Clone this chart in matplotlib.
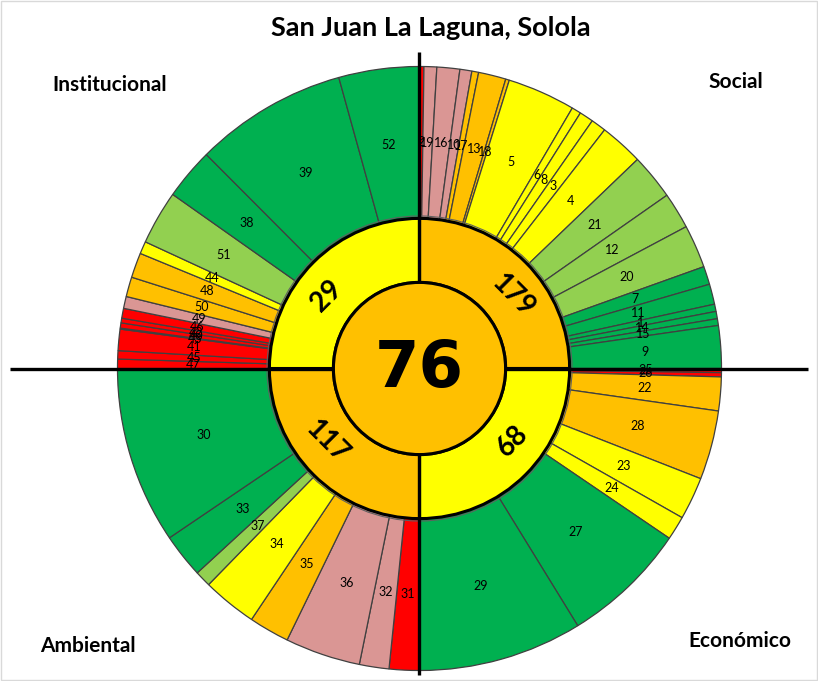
import matplotlib.pyplot as plt
import numpy as np

plt.rcParams['font.family'] = ['Lato', 'DejaVu Sans']

title = "San Juan La Laguna, Solola"
center_value = 76
center_level = 3

# quadrants in drawing order (clockwise from 12 o'clock)
dimensions = ["Social", "Económico", "Ambiental", "Institucional"]
dimension_scores = [179, 68, 117, 29]
dimension_levels = [3, 4, 3, 4]

# indicator number, angular share (deg) and rating level, clockwise inside each quadrant
social_ids = [2, 19, 16, 10, 17, 13, 18, 5, 6, 8, 3, 4, 21, 12, 20, 7, 11, 1, 14, 15, 9]
social_share = [0.85, 2.45, 4.4, 2.3, 1.3, 5.3, 0.7, 13.1, 1.8, 2.7, 2.9, 8.4,
                8.8, 7.0, 8.3, 3.5, 3.9, 1.4, 1.4, 1.3, 8.2]
social_level = [1, 2, 2, 2, 3, 3, 3, 4, 4, 4, 4, 4, 5, 5, 5, 6, 6, 6, 6, 6, 6]

econ_ids = [25, 26, 22, 28, 23, 24, 27, 29]
econ_share = [0.8, 0.8, 6.5, 13.3, 8.2, 4.6, 24.2, 31.6]
econ_level = [1, 1, 3, 3, 4, 4, 6, 6]

amb_ids = [31, 32, 36, 35, 34, 37, 33, 30]
amb_share = [5.8, 5.7, 14.5, 7.8, 10.5, 3.1, 8.5, 34.1]
amb_level = [1, 2, 2, 3, 4, 5, 6, 6]

inst_ids = [47, 45, 41, 43, 40, 42, 46, 49, 50, 48, 44, 51, 38, 39, 52]
inst_share = [1.8, 1.6, 4.1, 0.2, 1.0, 0.9, 1.9, 2.3, 3.8, 4.8, 2.4, 10.4, 9.9, 29.4, 15.5]
inst_level = [1, 1, 1, 1, 1, 1, 1, 2, 3, 3, 4, 5, 6, 6, 6]

palette = {1: "#FF0000", 2: "#DA9694", 3: "#FFC000", 4: "#FFFF00", 5: "#92D050", 6: "#00B050"}

ids, shares, levels = [], [], []
for i_, s_, l_ in [(social_ids, social_share, social_level), (econ_ids, econ_share, econ_level),
                   (amb_ids, amb_share, amb_level), (inst_ids, inst_share, inst_level)]:
    s_ = np.array(s_, dtype=float)
    ids += i_
    shares += list(s_ / s_.sum())   # each quadrant fills a quarter
    levels += l_

W, H = 818, 681
cx, cy, R = 419.5, 368.5, 302.0
r_mid, r_in = 0.497, 0.285

fig = plt.figure(figsize=(W / 100, H / 100), dpi=100)
ax = fig.add_axes([0, 0, 1, 1])

# outer ring
wedges, _ = ax.pie(shares, radius=1.0, startangle=90, counterclock=False,
                   colors=[palette[l] for l in levels],
                   wedgeprops=dict(width=1 - r_mid, edgecolor="#404040", linewidth=0.9))
for w, n in zip(wedges, ids):
    a = np.deg2rad((w.theta1 + w.theta2) / 2)
    rr = (1 + r_mid) / 2
    ax.text(rr * np.cos(a), rr * np.sin(a), str(n), ha="center", va="center",
            fontsize=9, color="black", zorder=5)

ax.add_patch(plt.Circle((0, 0), r_mid + 0.008, fill=False, edgecolor="#606060", lw=0.8, zorder=3))

# inner ring
inner, _ = ax.pie([1, 1, 1, 1], radius=r_mid, startangle=90, counterclock=False,
                  colors=[palette[l] for l in dimension_levels],
                  wedgeprops=dict(width=r_mid - r_in, edgecolor="black", linewidth=2.2))
for w in inner:
    w.set_zorder(3)
for w, s in zip(inner, dimension_scores):
    mid = (w.theta1 + w.theta2) / 2
    rot = mid - 90 if np.sin(np.deg2rad(mid)) > 0 else mid + 90
    # labels sit a little toward the horizontal axis, as in the source chart
    a = np.deg2rad(mid - 7 * np.sign(np.sin(np.deg2rad(mid))) * np.sign(np.cos(np.deg2rad(mid))))
    rr = (r_mid + r_in) / 2
    ax.text(rr * np.cos(a), rr * np.sin(a), str(s), ha="center", va="center",
            rotation=rot, rotation_mode="anchor", fontsize=20, fontweight="bold", zorder=6)

# cross lines
ax.plot([-409.5 / R, 388.5 / R], [0, 0], color="black", lw=2.4, zorder=4, solid_capstyle="butt")
ax.plot([0, 0], [(cy - 52) / R, (cy - 675) / R], color="black", lw=2.4, zorder=4, solid_capstyle="butt")

# center
ax.add_patch(plt.Circle((0, 0), r_in, facecolor=palette[center_level], edgecolor="black", lw=2.2, zorder=5))
ax.text(0, 0, str(center_value), ha="center", va="center", fontsize=46, fontweight="bold",
        family="DejaVu Sans", zorder=6)

ax.text(11 / R, (cy - 28) / R, title, ha="center", va="center", fontsize=19.5, fontweight="bold")
corner_pos = {"Social": (736, 82), "Económico": (740, 641), "Ambiental": (88, 646), "Institucional": (110, 85)}
for name in dimensions:
    px, py = corner_pos[name]
    ax.text((px - cx) / R, (cy - py) / R, name, ha="center", va="center", fontsize=15, fontweight="bold")

ax.set_aspect("auto")
ax.set_xlim(-cx / R, (W - cx) / R)
ax.set_ylim((cy - H) / R, cy / R)
ax.axis("off")

fig.patches.append(plt.Rectangle((0.001, 0.001), 0.998, 0.998, transform=fig.transFigure,
                                 fill=False, edgecolor="#D9D9D9", lw=1))

fig.savefig("out.png", dpi=100)
